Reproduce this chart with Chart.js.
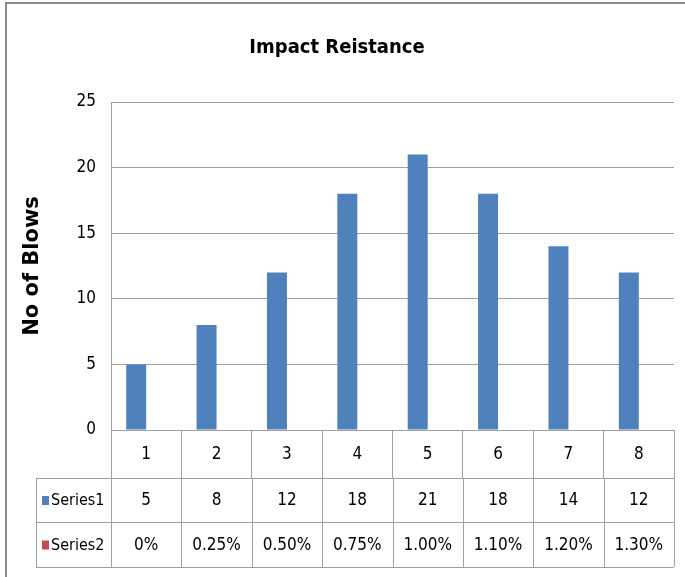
<!DOCTYPE html>
<html>
<head>
<meta charset="utf-8">
<script src="https://cdn.jsdelivr.net/npm/chart.js@4/dist/chart.umd.min.js"></script>
<style>
html,body{margin:0;padding:0;background:#fff;}
#wrap{width:685px;height:577px;position:relative;}
</style>
</head>
<body>
<div id="wrap"><canvas id="c" width="685" height="577"></canvas></div>
<script>
const categories = ['1','2','3','4','5','6','7','8'];
const series1 = [5, 8, 12, 18, 21, 18, 14, 12];
const series2 = [0, 0.0025, 0.005, 0.0075, 0.01, 0.011, 0.012, 0.013];
const series2Labels = ['0%','0.25%','0.50%','0.75%','1.00%','1.10%','1.20%','1.30%'];
const yTicks = [0, 5, 10, 15, 20, 25];

const NARROW = '"DejaVu Sans Condensed", "Liberation Sans Narrow", sans-serif';
const LINE = '#a0a0a0';
const C1 = '#4f81bd', C2 = '#c0504d';

const tablePlugin = {
  id: 'tablePlugin',
  beforeDraw(chart) {
    const ctx = chart.ctx;
    ctx.save();
    ctx.fillStyle = '#fff';
    ctx.fillRect(0, 0, chart.width, chart.height);
    ctx.strokeStyle = '#8c8c8c';
    ctx.lineWidth = 2;
    ctx.beginPath();
    ctx.moveTo(5, 3); ctx.lineTo(chart.width, 3);
    ctx.moveTo(6, 3); ctx.lineTo(6, chart.height);
    ctx.stroke();
    ctx.restore();
  },
  afterDraw(chart) {
    const ctx = chart.ctx;
    const x = chart.scales.x;
    const left = x.left, right = x.right;
    const n = categories.length;
    const w = (right - left) / n;
    const r1 = 478, r2 = 522, r3 = 567, legL = 36;
    ctx.save();
    ctx.strokeStyle = LINE;
    ctx.lineWidth = 1;
    ctx.beginPath();
    [r1, r2, r3].forEach(y => { ctx.moveTo(legL, y + 0.5); ctx.lineTo(right, y + 0.5); });
    ctx.moveTo(legL + 0.5, r1); ctx.lineTo(legL + 0.5, r3);
    for (let i = 0; i <= n; i++) {
      const xx = Math.round(left + i * w) + 0.5;
      ctx.moveTo(xx, r1); ctx.lineTo(xx, r3);
    }
    ctx.stroke();
    ctx.fillStyle = '#000';
    ctx.font = '17px ' + NARROW;
    ctx.textAlign = 'center';
    ctx.textBaseline = 'middle';
    for (let i = 0; i < n; i++) {
      const cx = x.getPixelForValue(i);
      ctx.fillText(String(series1[i]), cx, (r1 + r2) / 2 + 1);
      ctx.fillText(series2Labels[i], cx, (r2 + r3) / 2 + 1);
    }
    ctx.textAlign = 'left';
    ctx.fillStyle = C1;
    ctx.fillRect(42, (r1 + r2) / 2 - 4, 7, 9);
    ctx.fillStyle = C2;
    ctx.fillRect(42, (r2 + r3) / 2 - 4, 7, 9);
    ctx.fillStyle = '#000';
    ctx.font = '16px ' + NARROW;
    ctx.fillText('Series1', 51, (r1 + r2) / 2 + 1);
    ctx.fillText('Series2', 51, (r2 + r3) / 2 + 1);
    ctx.restore();
  }
};

new Chart(document.getElementById('c'), {
  type: 'bar',
  data: {
    labels: categories,
    datasets: [
      { label: 'Series1', data: series1, backgroundColor: C1, categoryPercentage: 0.568, barPercentage: 1 },
      { label: 'Series2', data: series2, backgroundColor: 'rgba(192,80,77,0)', categoryPercentage: 0.568, barPercentage: 1 }
    ]
  },
  options: {
    responsive: false,
    animation: false,
    devicePixelRatio: 1,
    layout: { padding: { left: 0, right: 11, top: 0, bottom: 99 } },
    plugins: {
      legend: { display: false },
      tooltip: { enabled: false },
      title: {
        display: true,
        text: 'Impact Reistance',
        color: '#000',
        font: { family: NARROW, size: 20, weight: 'bold' },
        padding: { top: 36, bottom: 42 }
      }
    },
    scales: {
      x: {
        offset: true,
        grid: { display: true, drawOnChartArea: false, drawTicks: true, tickLength: 48, color: LINE, offset: true },
        border: { color: LINE },
        ticks: { color: '#000', font: { family: NARROW, size: 17 }, padding: -34, maxRotation: 0 },
        afterFit(s) { s.height = 48; }
      },
      y: {
        min: 0, max: 25,
        afterBuildTicks(s) { s.ticks = yTicks.map(v => ({ value: v })); },
        grid: { color: LINE, drawTicks: false },
        border: { color: LINE },
        ticks: { color: '#000', font: { family: NARROW, size: 17 }, padding: 15 },
        title: {
          display: true,
          text: 'No of Blows',
          color: '#000',
          font: { family: '"DejaVu Sans", sans-serif', size: 21, weight: 'bold' },
          padding: { top: 20, bottom: 0 }
        },
        afterFit(s) { s.width = 111; }
      }
    }
  },
  plugins: [tablePlugin]
});
</script>
</body>
</html>
